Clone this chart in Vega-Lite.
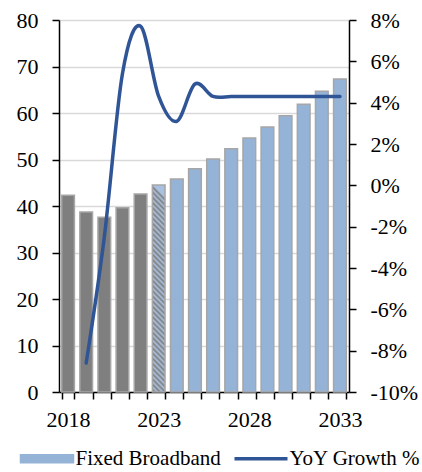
{
  "$schema": "https://vega.github.io/schema/vega-lite/v6.json",
  "width": 290,
  "height": 372,
  "autosize": {"type": "none"},
  "padding": {"left": 59, "top": 20, "right": 73, "bottom": 80},
  "background": "white",
  "config": {
    "view": {"stroke": null},
    "axis": {
      "labelFont": "Liberation Serif",
      "labelFontSize": 22,
      "labelColor": "black",
      "domainColor": "black",
      "domainWidth": 1.5,
      "tickColor": "black",
      "tickWidth": 1.5,
      "tickSize": 7,
      "title": null
    }
  },
  "data": {
    "values": [
      {"year": 2018, "value": 42.3, "growth": null, "type": "Actual"},
      {"year": 2019, "value": 38.7, "growth": -0.086, "type": "Actual"},
      {"year": 2020, "value": 37.6, "growth": -0.025, "type": "Actual"},
      {"year": 2021, "value": 39.6, "growth": 0.054, "type": "Actual"},
      {"year": 2022, "value": 42.6, "growth": 0.077, "type": "Actual"},
      {"year": 2023, "value": 44.5, "growth": 0.043, "type": "Estimate"},
      {"year": 2024, "value": 45.8, "growth": 0.031, "type": "Forecast"},
      {"year": 2025, "value": 48.0, "growth": 0.049, "type": "Forecast"},
      {"year": 2026, "value": 50.1, "growth": 0.043, "type": "Forecast"},
      {"year": 2027, "value": 52.3, "growth": 0.043, "type": "Forecast"},
      {"year": 2028, "value": 54.6, "growth": 0.043, "type": "Forecast"},
      {"year": 2029, "value": 57.0, "growth": 0.043, "type": "Forecast"},
      {"year": 2030, "value": 59.4, "growth": 0.043, "type": "Forecast"},
      {"year": 2031, "value": 61.9, "growth": 0.043, "type": "Forecast"},
      {"year": 2032, "value": 64.7, "growth": 0.043, "type": "Forecast"},
      {"year": 2033, "value": 67.3, "growth": 0.043, "type": "Forecast"}
    ]
  },
  "encoding": {
    "x": {
      "field": "year",
      "type": "ordinal",
      "scale": {"paddingInner": 0.3, "paddingOuter": 0.15},
      "axis": {
        "tickBand": "extent",
        "labelAngle": 0,
        "labelOverlap": false,
        "labelPadding": 10,
        "labelExpr": "datum.value % 5 === 3 ? datum.label : ''",
        "grid": false
      }
    }
  },
  "layer": [
    {
      "mark": {"type": "bar", "stroke": "#a6a6a6", "strokeWidth": 1.5},
      "encoding": {
        "y": {
          "field": "value",
          "type": "quantitative",
          "scale": {"domain": [0, 80], "nice": false},
          "axis": {
            "orient": "left",
            "values": [0, 10, 20, 30, 40, 50, 60, 70, 80],
            "grid": true,
            "gridColor": "#d9d9d9",
            "gridWidth": 1.3,
            "labelPadding": 14
          }
        },
        "fill": {
          "condition": [
            {"test": "datum.type === 'Actual'", "value": "#7f7f7f"},
            {"test": "datum.type === 'Estimate'", "value": {
              "gradient": "linear", "x1": 0, "y1": 1, "x2": 0.062, "y2": 0,
              "stops": [
                {"offset": 0, "color": "#a9c1e0"}, {"offset": 0.0125, "color": "#7f7f7f"},
                {"offset": 0.025, "color": "#a9c1e0"}, {"offset": 0.0375, "color": "#7f7f7f"},
                {"offset": 0.05, "color": "#a9c1e0"}, {"offset": 0.0625, "color": "#7f7f7f"},
                {"offset": 0.075, "color": "#a9c1e0"}, {"offset": 0.0875, "color": "#7f7f7f"},
                {"offset": 0.1, "color": "#a9c1e0"}, {"offset": 0.1125, "color": "#7f7f7f"},
                {"offset": 0.125, "color": "#a9c1e0"}, {"offset": 0.1375, "color": "#7f7f7f"},
                {"offset": 0.15, "color": "#a9c1e0"}, {"offset": 0.1625, "color": "#7f7f7f"},
                {"offset": 0.175, "color": "#a9c1e0"}, {"offset": 0.1875, "color": "#7f7f7f"},
                {"offset": 0.2, "color": "#a9c1e0"}, {"offset": 0.2125, "color": "#7f7f7f"},
                {"offset": 0.225, "color": "#a9c1e0"}, {"offset": 0.2375, "color": "#7f7f7f"},
                {"offset": 0.25, "color": "#a9c1e0"}, {"offset": 0.2625, "color": "#7f7f7f"},
                {"offset": 0.275, "color": "#a9c1e0"}, {"offset": 0.2875, "color": "#7f7f7f"},
                {"offset": 0.3, "color": "#a9c1e0"}, {"offset": 0.3125, "color": "#7f7f7f"},
                {"offset": 0.325, "color": "#a9c1e0"}, {"offset": 0.3375, "color": "#7f7f7f"},
                {"offset": 0.35, "color": "#a9c1e0"}, {"offset": 0.3625, "color": "#7f7f7f"},
                {"offset": 0.375, "color": "#a9c1e0"}, {"offset": 0.3875, "color": "#7f7f7f"},
                {"offset": 0.4, "color": "#a9c1e0"}, {"offset": 0.4125, "color": "#7f7f7f"},
                {"offset": 0.425, "color": "#a9c1e0"}, {"offset": 0.4375, "color": "#7f7f7f"},
                {"offset": 0.45, "color": "#a9c1e0"}, {"offset": 0.4625, "color": "#7f7f7f"},
                {"offset": 0.475, "color": "#a9c1e0"}, {"offset": 0.4875, "color": "#7f7f7f"},
                {"offset": 0.5, "color": "#a9c1e0"}, {"offset": 0.5125, "color": "#7f7f7f"},
                {"offset": 0.525, "color": "#a9c1e0"}, {"offset": 0.5375, "color": "#7f7f7f"},
                {"offset": 0.55, "color": "#a9c1e0"}, {"offset": 0.5625, "color": "#7f7f7f"},
                {"offset": 0.575, "color": "#a9c1e0"}, {"offset": 0.5875, "color": "#7f7f7f"},
                {"offset": 0.6, "color": "#a9c1e0"}, {"offset": 0.6125, "color": "#7f7f7f"},
                {"offset": 0.625, "color": "#a9c1e0"}, {"offset": 0.6375, "color": "#7f7f7f"},
                {"offset": 0.65, "color": "#a9c1e0"}, {"offset": 0.6625, "color": "#7f7f7f"},
                {"offset": 0.675, "color": "#a9c1e0"}, {"offset": 0.6875, "color": "#7f7f7f"},
                {"offset": 0.7, "color": "#a9c1e0"}, {"offset": 0.7125, "color": "#7f7f7f"},
                {"offset": 0.725, "color": "#a9c1e0"}, {"offset": 0.7375, "color": "#7f7f7f"},
                {"offset": 0.75, "color": "#a9c1e0"}, {"offset": 0.7625, "color": "#7f7f7f"},
                {"offset": 0.775, "color": "#a9c1e0"}, {"offset": 0.7875, "color": "#7f7f7f"},
                {"offset": 0.8, "color": "#a9c1e0"}, {"offset": 0.8125, "color": "#7f7f7f"},
                {"offset": 0.825, "color": "#a9c1e0"}, {"offset": 0.8375, "color": "#7f7f7f"},
                {"offset": 0.85, "color": "#a9c1e0"}, {"offset": 0.8625, "color": "#7f7f7f"},
                {"offset": 0.875, "color": "#a9c1e0"}, {"offset": 0.8875, "color": "#7f7f7f"},
                {"offset": 0.9, "color": "#a9c1e0"}, {"offset": 0.9125, "color": "#7f7f7f"},
                {"offset": 0.925, "color": "#a9c1e0"}, {"offset": 0.9375, "color": "#7f7f7f"},
                {"offset": 0.95, "color": "#a9c1e0"}, {"offset": 0.9625, "color": "#7f7f7f"},
                {"offset": 0.975, "color": "#a9c1e0"}, {"offset": 0.9875, "color": "#7f7f7f"},
                {"offset": 1, "color": "#a9c1e0"}
              ]
            }}
          ],
          "value": "#95b3d7"
        }
      }
    },
    {
      "transform": [{"filter": "datum.growth != null"}],
      "mark": {"type": "line", "interpolate": "cardinal", "tension": 0, "strokeWidth": 3.5, "strokeCap": "round"},
      "encoding": {
        "y": {
          "field": "growth",
          "type": "quantitative",
          "scale": {"domain": [-0.1, 0.08], "nice": false},
          "axis": {
            "orient": "right",
            "values": [-0.1, -0.08, -0.06, -0.04, -0.02, 0, 0.02, 0.04, 0.06, 0.08],
            "labelExpr": "round(datum.value * 100) + '%'",
            "grid": false,
            "labelPadding": 14
          }
        },
        "color": {
          "datum": "YoY Growth %",
          "scale": {"domain": ["Fixed Broadband", "YoY Growth %"], "range": ["#95b3d7", "#2f5597"]},
          "legend": {
            "orient": "none",
            "legendX": -29,
            "legendY": 428,
            "direction": "horizontal",
            "title": null,
            "symbolSize": 2809,
            "symbolType": "M-1,-0.15H1V0.15H-1Z",
            "symbolOffset": 6.5,
            "labelFont": "Liberation Serif",
            "labelFontSize": 21,
            "labelColor": "black",
            "labelOffset": 18,
            "columnPadding": 6,
            "padding": 0,
            "encode": {
              "symbols": {
                "update": {
                  "size": {"value": 2809},
                  "shape": {"signal": "datum.value === 'YoY Growth %' ? 'M-1,0H1' : 'M-1,-0.15H1V0.15H-1Z'"},
                  "fill": {"signal": "datum.value === 'YoY Growth %' ? 'transparent' : '#95b3d7'"},
                  "stroke": {"signal": "datum.value === 'YoY Growth %' ? '#2f5597' : '#a6a6a6'"},
                  "strokeWidth": {"signal": "datum.value === 'YoY Growth %' ? 3.5 : 1.5"},
                  "opacity": {"value": 1}
                }
              }
            }
          }
        }
      }
    }
  ],
  "resolve": {"scale": {"y": "independent"}}
}
